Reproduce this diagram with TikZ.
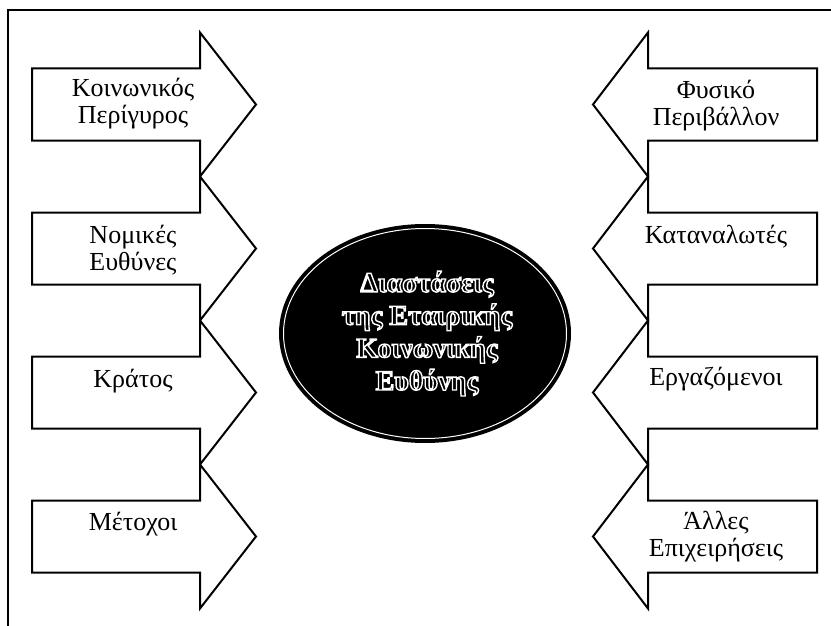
\documentclass[tikz,border=0pt]{standalone}
\usepackage{fontspec}
\setmainfont{Liberation Serif}
\tikzset{
  arrowshape/.style={draw=black, line width=2pt, fill=white, line join=miter},
  frameline/.style={draw=black, line width=2pt},
  lbl/.style={font=\fontsize{26}{27}\selectfont, align=center, anchor=base, inner sep=0pt},
  hub/.style={font=\fontsize{28}{32.7}\selectfont\bfseries, align=center, anchor=base, inner sep=0pt, text=white},
}
\newcommand{\wl}[1]{\special{pdf:literal direct 1 Tr 1.4 w}#1\special{pdf:literal direct 0 Tr}}
\begin{document}
\begin{tikzpicture}[x=1pt,y=-1pt]
\useasboundingbox (0,0) rectangle (831,626);
% frame (top and left lines)
\coordinate (fTR) at (831,10);
\coordinate (fTL) at (8,10);
\coordinate (fBL) at (8,626);
\draw[frameline] (fTR) -- (fTL) -- (fBL);
% left arrows
\foreach \c in {104.5,248.5,392.5,536.5}{
  \draw[arrowshape] (32,\c-36) -- (200,\c-36) -- (200,\c-72) -- (256,\c) -- (200,\c+72) -- (200,\c+36) -- (32,\c+36) -- cycle;
}
% right arrows
\foreach \c in {104.5,248.5,392.5,536.5}{
  \draw[arrowshape] (817,\c-36) -- (648,\c-36) -- (648,\c-72) -- (593,\c) -- (648,\c+72) -- (648,\c+36) -- (817,\c+36) -- cycle;
}
% left labels (base = last line)
\node[lbl] (l1) at (133,124) {Κοινωνικός\\Περίγυρος};
\node[lbl] (l2) at (133,270) {Νομικές\\Ευθύνες};
\node[lbl] (l3) at (133,387) {Κράτος};
\node[lbl] (l4) at (133,530) {Μέτοχοι};
% right labels
\node[lbl] (r1) at (716,125) {Φυσικό\\Περιβάλλον};
\node[lbl] (r2) at (716,243) {Καταναλωτές};
\node[lbl] (r3) at (716,385) {Εργαζόμενοι};
\node[lbl] (r4) at (716,556) {Άλλες\\Επιχειρήσεις};
% central ellipse
\fill[black] (425,333.5) ellipse [x radius=145, y radius=108.5];
\draw[white, line width=1pt] (425,333.5) ellipse [x radius=141.5, y radius=105];
\draw[black, line width=2pt] (425,333.5) ellipse [x radius=145, y radius=108.5];
\node[hub] (hub) at (427,390) {\wl{Διαστάσεις}\\\wl{της Εταιρικής}\\\wl{Κοινωνικής}\\\wl{Ευθύνης}};
\end{tikzpicture}
\end{document}
